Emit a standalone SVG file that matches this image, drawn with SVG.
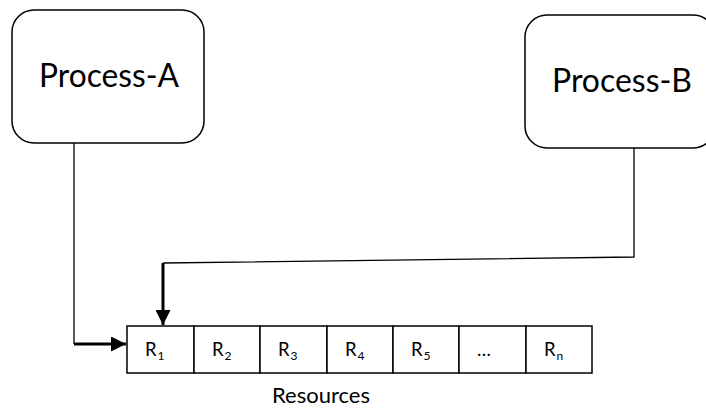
<svg xmlns="http://www.w3.org/2000/svg" width="706" height="408" viewBox="0 0 706 408">
  <style>
    .box { fill: #ffffff; stroke: #000000; stroke-width: 1.5; }
    .cell { fill: #ffffff; stroke: #000000; stroke-width: 1.5; }
    .wire { fill: none; stroke: #000000; stroke-width: 1.3; }
    .wire-bold { fill: none; stroke: #000000; stroke-width: 3; }
    .big { font-family: Lato, "Open Sans", sans-serif; font-size: 33px; fill: #000000; }
    .lbl { font-family: Lato, "Open Sans", sans-serif; font-size: 18.5px; fill: #000000; }
    .sub { font-size: 12px; }
    .cap { font-family: Lato, "Open Sans", sans-serif; font-size: 21px; fill: #000000; }
  </style>
  <defs>
    <marker id="head" markerWidth="5" markerHeight="5" refX="5" refY="2.5" orient="auto" markerUnits="strokeWidth">
      <path d="M0,0 L5,2.5 L0,5 Z" fill="#000000"/>
    </marker>
  </defs>

  <g id="process-a">
    <rect class="box" x="12" y="10" width="192" height="133" rx="22" ry="22"/>
    <text class="big" x="109" y="87" text-anchor="middle" textLength="140" lengthAdjust="spacingAndGlyphs">Process-A</text>
  </g>

  <g id="process-b">
    <rect class="box" x="525" y="15" width="190" height="133" rx="22" ry="22"/>
    <text class="big" x="622" y="92" text-anchor="middle" textLength="140" lengthAdjust="spacingAndGlyphs">Process-B</text>
  </g>

  <g id="resources">
    <rect class="cell" x="127" y="326" width="67" height="47"/>
    <rect class="cell" x="194" y="326" width="66" height="47"/>
    <rect class="cell" x="260" y="326" width="67" height="47"/>
    <rect class="cell" x="327" y="326" width="66" height="47"/>
    <rect class="cell" x="393" y="326" width="66" height="47"/>
    <rect class="cell" x="459" y="326" width="67" height="47"/>
    <rect class="cell" x="526" y="326" width="66" height="47"/>
    <text class="lbl" x="145" y="356">R<tspan class="sub" dy="4" dx="1">1</tspan></text>
    <text class="lbl" x="212" y="356">R<tspan class="sub" dy="4" dx="1">2</tspan></text>
    <text class="lbl" x="278" y="356">R<tspan class="sub" dy="4" dx="1">3</tspan></text>
    <text class="lbl" x="345" y="356">R<tspan class="sub" dy="4" dx="1">4</tspan></text>
    <text class="lbl" x="411" y="356">R<tspan class="sub" dy="4" dx="1">5</tspan></text>
    <text class="lbl" x="477" y="356">…</text>
    <text class="lbl" x="544" y="356">R<tspan class="sub" dy="4" dx="1">n</tspan></text>
    <text class="cap" x="321" y="403" text-anchor="middle" textLength="98" lengthAdjust="spacingAndGlyphs">Resources</text>
  </g>

  <g id="connectors">
    <!-- Process-A down and into R1 from the left -->
    <path class="wire" d="M74,143 V344"/>
    <path class="wire-bold" d="M74,344 H126" marker-end="url(#head)"/>
    <!-- Process-B down, across, and into R1 from above -->
    <path class="wire" d="M634,148 V257 L163,263"/>
    <path class="wire-bold" d="M163,263 V325" marker-end="url(#head)"/>
  </g>
</svg>
